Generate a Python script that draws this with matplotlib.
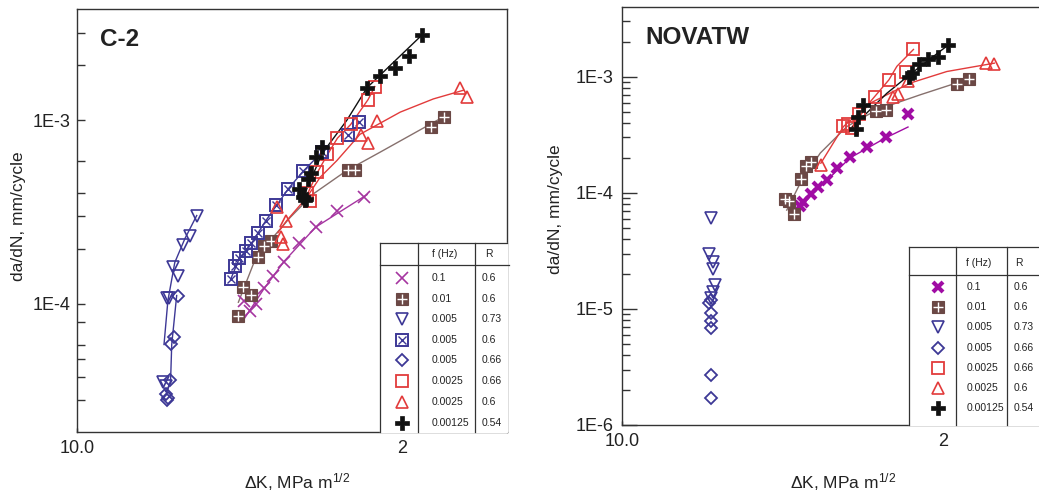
import matplotlib
matplotlib.use("Agg")
import matplotlib.pyplot as plt
from matplotlib.ticker import NullFormatter

plt.rcParams['font.family'] = ['Liberation Sans', 'DejaVu Sans']
plt.rcParams['mathtext.fontset'] = 'custom'
plt.rcParams['mathtext.rm'] = 'Liberation Sans'
plt.rcParams['mathtext.default'] = 'regular'

## ---------------- data : C-2 ----------------
c2_x01_dk = [1.429, 1.447, 1.466, 1.489, 1.518, 1.555, 1.606, 1.664, 1.743, 1.845]
c2_x01_da = [1.03e-4, 9.1e-5, 1.0e-4, 1.22e-4, 1.41e-4, 1.70e-4, 2.15e-4, 2.64e-4, 3.22e-4, 3.83e-4]
c2_x01_fit_dk = [1.425, 1.489, 1.555, 1.664, 1.857]
c2_x01_fit_da = [8.1e-5, 1.2e-4, 1.7e-4, 2.62e-4, 3.94e-4]

c2_g001_dk = [1.410, 1.425, 1.449, 1.470, 1.490, 1.514, 1.782, 1.810, 2.127, 2.188]
c2_g001_da = [8.63e-5, 1.23e-4, 1.12e-4, 1.79e-4, 2.07e-4, 2.19e-4, 5.40e-4, 5.40e-4, 9.16e-4, 1.05e-3]
c2_g001_fit_dk = [1.411, 1.457, 1.510, 1.576, 1.656, 1.778, 1.909, 2.188]
c2_g001_fit_da = [1.02e-4, 1.65e-4, 2.21e-4, 2.96e-4, 3.98e-4, 5.33e-4, 6.71e-4, 1.05e-3]

c2_v73_dk = [1.293, 1.273, 1.253, 1.228, 1.240, 1.211, 1.218, 1.202, 1.209]
c2_v73_da = [3.03e-4, 2.35e-4, 2.10e-4, 1.58e-4, 1.42e-4, 1.08e-4, 1.08e-4, 3.75e-5, 3.56e-5]
c2_v73_fit_dk = [1.204, 1.214, 1.232, 1.259, 1.291]
c2_v73_fit_da = [6.0e-5, 1.04e-4, 1.68e-4, 2.27e-4, 3.03e-4]

c2_xs60_dk = [1.388, 1.402, 1.414, 1.434, 1.451, 1.470, 1.496, 1.528, 1.570, 1.620, 1.686, 1.783, 1.826]
c2_xs60_da = [1.36e-4, 1.60e-4, 1.77e-4, 1.93e-4, 2.14e-4, 2.43e-4, 2.84e-4, 3.44e-4, 4.25e-4,
              5.28e-4, 6.71e-4, 8.35e-4, 9.75e-4]
c2_xs60_fit_dk = [1.388, 1.414, 1.451, 1.496, 1.570, 1.620, 1.686]
c2_xs60_fit_da = [1.36e-4, 1.77e-4, 2.14e-4, 2.84e-4, 4.25e-4, 5.28e-4, 6.71e-4]

c2_d66_dk = [1.240, 1.230, 1.222, 1.219, 1.208, 1.215, 1.211]
c2_d66_da = [1.11e-4, 6.6e-5, 6.07e-5, 3.84e-5, 3.24e-5, 3.08e-5, 2.99e-5]
c2_d66_fit_dk = [1.211, 1.221, 1.224, 1.237]
c2_d66_fit_da = [3.3e-5, 3.8e-5, 6.0e-5, 1.11e-4]

c2_s66_dk = [1.644, 1.633, 1.670, 1.706, 1.743, 1.793, 1.861, 1.888]
c2_s66_da = [3.62e-4, 4.03e-4, 5.22e-4, 6.52e-4, 8.04e-4, 9.51e-4, 1.30e-3, 1.53e-3]
c2_s66_fit_dk = [1.633, 1.670, 1.706, 1.743, 1.793, 1.861, 1.888]
c2_s66_fit_da = [3.9e-4, 5.2e-4, 6.5e-4, 8.0e-4, 9.5e-4, 1.30e-3, 1.53e-3]

c2_t60_dk = [1.531, 1.562, 1.546, 1.553, 1.833, 1.861, 1.896, 2.265, 2.297]
c2_t60_da = [3.36e-4, 2.84e-4, 2.32e-4, 2.12e-4, 8.31e-4, 7.51e-4, 9.9e-4, 1.50e-3, 1.34e-3]
c2_t60_fit_dk = [1.535, 1.564, 1.633, 1.680, 1.741, 1.829, 1.993, 2.139, 2.280]
c2_t60_fit_da = [2.44e-4, 2.84e-4, 3.81e-4, 4.90e-4, 6.04e-4, 8.4e-4, 1.11e-3, 1.31e-3, 1.46e-3]

c2_p54_dk = [1.606, 1.620, 1.627, 1.630, 1.638, 1.647, 1.666, 1.687, 1.857, 1.909, 1.971, 2.032, 2.086]
c2_p54_da = [4.25e-4, 3.84e-4, 3.66e-4, 3.75e-4, 4.80e-4, 5.20e-4, 6.28e-4, 7.12e-4, 1.51e-3,
             1.74e-3, 1.93e-3, 2.25e-3, 2.91e-3]
c2_p54_fit_dk = [1.620, 1.687, 1.778, 1.857, 2.086]
c2_p54_fit_da = [3.8e-4, 6.6e-4, 1.0e-3, 1.51e-3, 2.91e-3]

## ---------------- data : NOVATW ----------------
nv_x01_dk = [1.467, 1.479, 1.503, 1.528, 1.556, 1.590, 1.636, 1.696, 1.767, 1.854]
nv_x01_da = [7.7e-5, 8.4e-5, 9.8e-5, 1.13e-4, 1.29e-4, 1.63e-4, 2.03e-4, 2.46e-4, 3.0e-4, 4.8e-4]
nv_x01_fit_dk = [1.467, 1.503, 1.556, 1.636, 1.767, 1.854]
nv_x01_fit_da = [7.1e-5, 9.6e-5, 1.28e-4, 2.0e-4, 2.98e-4, 3.69e-4]

nv_g001_dk = [1.422, 1.435, 1.450, 1.471, 1.488, 1.503, 1.731, 1.767, 2.063, 2.116]
nv_g001_da = [8.9e-5, 8.5e-5, 6.6e-5, 1.32e-4, 1.69e-4, 1.86e-4, 5.1e-4, 5.2e-4, 8.7e-4, 9.6e-4]
nv_g001_fit_dk = [1.427, 1.469, 1.534, 1.625, 1.734, 1.904, 2.116]
nv_g001_fit_da = [7.1e-5, 1.21e-4, 2.2e-4, 3.73e-4, 5.2e-4, 7.0e-4, 9.6e-4]

nv_v73_dk = [1.211, 1.207, 1.216, 1.218, 1.223, 1.216, 1.211]
nv_v73_da = [6.05e-5, 2.98e-5, 2.56e-5, 2.2e-5, 1.61e-5, 1.41e-5, 1.24e-5]

nv_d66_dk = [1.211, 1.207, 1.211, 1.211, 1.211, 1.211, 1.211]
nv_d66_da = [1.20e-5, 1.12e-5, 9.2e-6, 7.8e-6, 6.8e-6, 2.7e-6, 1.7e-6]

nv_s66_dk = [1.876, 1.845, 1.779, 1.727, 1.667, 1.611, 1.630, 1.642]
nv_s66_da = [1.72e-3, 1.11e-3, 9.4e-4, 6.7e-4, 4.75e-4, 3.78e-4, 3.93e-4, 3.61e-4]
nv_s66_fit_dk = [1.636, 1.709, 1.779, 1.810, 1.876]
nv_s66_fit_da = [3.5e-4, 6.1e-4, 9.4e-4, 1.23e-3, 1.72e-3]

nv_t60_dk = [1.537, 1.794, 1.816, 1.854, 2.194, 2.232]
nv_t60_da = [1.73e-4, 6.76e-4, 7.06e-4, 9.11e-4, 1.31e-3, 1.29e-3]
nv_t60_fit_dk = [1.536, 1.613, 1.709, 1.863, 2.016, 2.234]
nv_t60_fit_da = [1.8e-4, 3.73e-4, 5.93e-4, 8.83e-4, 1.11e-3, 1.31e-3]

nv_p54_dk = [2.021, 1.976, 1.937, 1.899, 1.870, 1.856, 1.681, 1.663, 1.656]
nv_p54_da = [1.87e-3, 1.49e-3, 1.41e-3, 1.29e-3, 1.08e-3, 9.9e-4, 5.74e-4, 4.49e-4, 3.57e-4]
nv_p54_fit_dk = [1.645, 1.771, 1.870, 2.021]
nv_p54_fit_da = [3.7e-4, 7.2e-4, 1.08e-3, 1.87e-3]

## legend tables
c2_kinds = ['x', 'grid', 'vtri', 'xsq', 'dia', 'sq', 'tri', 'plus']
c2_freq = ['0.1', '0.01', '0.005', '0.005', '0.005', '0.0025', '0.0025', '0.00125']
c2_R = ['0.6', '0.6', '0.73', '0.6', '0.66', '0.66', '0.6', '0.54']
nv_kinds = ['xb', 'grid', 'vtri', 'dia', 'sq', 'tri', 'plus']
nv_freq = ['0.1', '0.01', '0.005', '0.005', '0.0025', '0.0025', '0.00125']
nv_R = ['0.6', '0.6', '0.73', '0.66', '0.66', '0.6', '0.54']

MAG = '#a535a0'
MAG2 = '#a00ca4'
BRN = '#6b4845'
BRN_L = '#86706d'
BLU = '#3d3896'
RED = '#e23b3b'
BLK = '#111111'
INK = '#222222'


def mark(ax, x, y, kind, **kw):
    base = dict(linestyle='none', zorder=4, **kw)
    if kind == 'x':
        ax.plot(x, y, marker='x', ms=8, mew=1.2, color=MAG, **base)
    elif kind == 'xb':
        ax.plot(x, y, marker='x', ms=7.5, mew=3.0, color=MAG2, **base)
    elif kind == 'grid':
        ax.plot(x, y, marker='s', ms=8.5, mfc=BRN, mec=BRN, mew=0.8, **base)
        ax.plot(x, y, marker='+', ms=6.5, mew=1.0, color='white', **base)
    elif kind == 'vtri':
        ax.plot(x, y, marker='v', ms=8, mfc='none', mec=BLU, mew=1.2, **base)
    elif kind == 'xsq':
        ax.plot(x, y, marker='s', ms=8.5, mfc='none', mec=BLU, mew=1.4, **base)
        ax.plot(x, y, marker='x', ms=6, mew=1.0, color=BLU, **base)
    elif kind == 'dia':
        ax.plot(x, y, marker='D', ms=6.5, mfc='none', mec=BLU, mew=1.3, **base)
    elif kind == 'sq':
        ax.plot(x, y, marker='s', ms=9, mfc='none', mec=RED, mew=1.3, **base)
    elif kind == 'tri':
        ax.plot(x, y, marker='^', ms=8, mfc='none', mec=RED, mew=1.2, **base)
    elif kind == 'plus':
        ax.plot(x, y, marker='P', ms=9.5, mfc=BLK, mec=BLK, mew=0.5, **base)


def table(ax, kinds, freq, R, x0, xc1, xc2, ytop, yhead, rows, xm, xf, xr, yh, fhx, rhx):
    kw = dict(transform=ax.transAxes, clip_on=False, color='#333333', lw=0.9, zorder=5)
    ax.fill([x0, 1.0, 1.0, x0], [0, 0, ytop, ytop], transform=ax.transAxes,
            color='white', zorder=3.5, clip_on=False)
    ax.plot([x0, x0], [0, ytop], **kw)
    ax.plot([x0, 1.0], [ytop, ytop], **kw)
    ax.plot([x0, 1.005], [yhead, yhead], **kw)
    ax.plot([xc1, xc1], [0, ytop], **kw)
    ax.plot([xc2, xc2], [0, ytop], **kw)
    ax.text(fhx, yh, 'f (Hz)', transform=ax.transAxes, ha='center', va='center',
            fontsize=7.5, color=INK, zorder=6)
    ax.text(rhx, yh, 'R', transform=ax.transAxes, ha='center', va='center',
            fontsize=7.5, color=INK, zorder=6)
    for k, f, r, yy in zip(kinds, freq, R, rows):
        mark(ax, [xm], [yy], k, transform=ax.transAxes, clip_on=False)
        ax.text(xf, yy, f, transform=ax.transAxes, ha='left', va='center',
                fontsize=7.5, color=INK, zorder=6)
        ax.text(xr, yy, r, transform=ax.transAxes, ha='left', va='center',
                fontsize=7.5, color=INK, zorder=6)


def style(ax, xmax, ylim, majors, majlab, minors, maj_len, min_len, ypad):
    ax.set_xscale('log')
    ax.set_yscale('log')
    ax.set_xlim(1.0, xmax)
    ax.set_ylim(*ylim)
    ax.set_xticks([1.0, 2.0])
    ax.set_xticklabels(['10.0', '2'])
    ax.set_xticks([], minor=True)
    ax.set_yticks(majors)
    ax.set_yticklabels(majlab)
    ax.set_yticks(minors, minor=True)
    ax.yaxis.set_minor_formatter(NullFormatter())
    ax.tick_params(axis='y', which='major', direction='in', length=maj_len, width=1,
                   pad=ypad, labelsize=13, colors='#333333', labelcolor=INK)
    ax.tick_params(axis='y', which='minor', direction='in', length=min_len, width=1,
                   colors='#333333')
    ax.tick_params(axis='x', which='major', direction='in', length=3, width=1,
                   pad=6, labelsize=13, colors='#333333', labelcolor=INK)
    for s in ax.spines.values():
        s.set_color('#333333')
        s.set_linewidth(1.0)


fig = plt.figure(figsize=(10.39, 4.93), dpi=100)

## ---- left panel : C-2 ----
ax1 = fig.add_axes([0.0741, 0.1237, 0.4139, 0.858])
style(ax1, 2.503, (2e-5, 4.05e-3), [1e-4, 1e-3], ['1E-4', '1E-3'],
      [3e-5, 4e-5, 5e-5, 6e-5, 8e-5, 2e-4, 3e-4, 4e-4, 6e-4, 2e-3, 3e-3], 6, 6, 5)

ax1.plot(c2_x01_fit_dk, c2_x01_fit_da, color=MAG, lw=1.0)
ax1.plot(c2_g001_fit_dk, c2_g001_fit_da, color=BRN_L, lw=1.0)
ax1.plot(c2_v73_fit_dk, c2_v73_fit_da, color=BLU, lw=1.0)
ax1.plot(c2_xs60_fit_dk, c2_xs60_fit_da, color=BLU, lw=1.0)
ax1.plot(c2_d66_fit_dk, c2_d66_fit_da, color=BLU, lw=1.0)
ax1.plot(c2_s66_fit_dk, c2_s66_fit_da, color=RED, lw=1.0)
ax1.plot(c2_t60_fit_dk, c2_t60_fit_da, color=RED, lw=1.0)
ax1.plot(c2_p54_fit_dk, c2_p54_fit_da, color=BLK, lw=1.0)

mark(ax1, c2_x01_dk, c2_x01_da, 'x')
mark(ax1, c2_g001_dk, c2_g001_da, 'grid')
mark(ax1, c2_v73_dk, c2_v73_da, 'vtri')
mark(ax1, c2_xs60_dk, c2_xs60_da, 'xsq')
mark(ax1, c2_d66_dk, c2_d66_da, 'dia')
mark(ax1, c2_s66_dk, c2_s66_da, 'sq')
mark(ax1, c2_t60_dk, c2_t60_da, 'tri')
mark(ax1, c2_p54_dk, c2_p54_da, 'plus')

table(ax1, c2_kinds, c2_freq, c2_R, 0.7047, 0.793, 0.9256, 0.4468, 0.3948,
      [0.3634, 0.3151, 0.2664, 0.2175, 0.1695, 0.1206, 0.0716, 0.0220],
      0.7558, 0.8256, 0.9419, 0.4208, 0.8558, 0.958)

ax1.text(0.0535, 0.929, 'C-2', transform=ax1.transAxes, fontsize=17.5,
         fontweight='bold', color=INK, ha='left', va='center')
ax1.text(-0.137, 0.511, 'da/dN, mm/cycle', transform=ax1.transAxes, rotation=90,
         fontsize=12.5, color=INK, ha='center', va='center')
ax1.text(0.5116, -0.1175, r'ΔK, MPa m$^{1/2}$', transform=ax1.transAxes,
         fontsize=12.5, color=INK, ha='center', va='center')

## ---- right panel : NOVATW ----
ax2 = fig.add_axes([0.5987, 0.138, 0.4013, 0.848])
style(ax2, 2.46, (1e-6, 4.0e-3), [1e-6, 1e-5, 1e-4, 1e-3], ['1E-6', '1E-5', '1E-4', '1E-3'],
      [k * 10.0 ** e for e in (-6, -5, -4, -3) for k in range(2, 10) if k * 10.0 ** e < 4e-3],
      11, 6, 6)
ax2.spines['right'].set_visible(False)

ax2.plot(nv_x01_fit_dk, nv_x01_fit_da, color=MAG2, lw=1.0)
ax2.plot(nv_g001_fit_dk, nv_g001_fit_da, color=BRN_L, lw=1.0)
ax2.plot(nv_s66_fit_dk, nv_s66_fit_da, color=RED, lw=1.0)
ax2.plot(nv_t60_fit_dk, nv_t60_fit_da, color=RED, lw=1.0)
ax2.plot(nv_p54_fit_dk, nv_p54_fit_da, color=BLK, lw=1.0)

mark(ax2, nv_x01_dk, nv_x01_da, 'xb')
mark(ax2, nv_g001_dk, nv_g001_da, 'grid')
mark(ax2, nv_v73_dk, nv_v73_da, 'vtri')
mark(ax2, nv_d66_dk, nv_d66_da, 'dia')
mark(ax2, nv_s66_dk, nv_s66_da, 'sq')
mark(ax2, nv_t60_dk, nv_t60_da, 'tri')
mark(ax2, nv_p54_dk, nv_p54_da, 'plus')

table(ax2, nv_kinds, nv_freq, nv_R, 0.689, 0.8017, 0.924, 0.4266, 0.3589,
      [0.3309, 0.2831, 0.2337, 0.1849, 0.1371, 0.0892, 0.0400],
      0.757, 0.8266, 0.9384, 0.3868, 0.8544, 0.952)

ax2.text(0.055, 0.926, 'NOVATW', transform=ax2.transAxes, fontsize=17.5,
         fontweight='bold', color=INK, ha='left', va='center')
ax2.text(-0.1607, 0.517, 'da/dN, mm/cycle', transform=ax2.transAxes, rotation=90,
         fontsize=12.5, color=INK, ha='center', va='center')
ax2.text(0.531, -0.1355, r'ΔK, MPa m$^{1/2}$', transform=ax2.transAxes,
         fontsize=12.5, color=INK, ha='center', va='center')

fig.savefig("out.png", dpi=100)
